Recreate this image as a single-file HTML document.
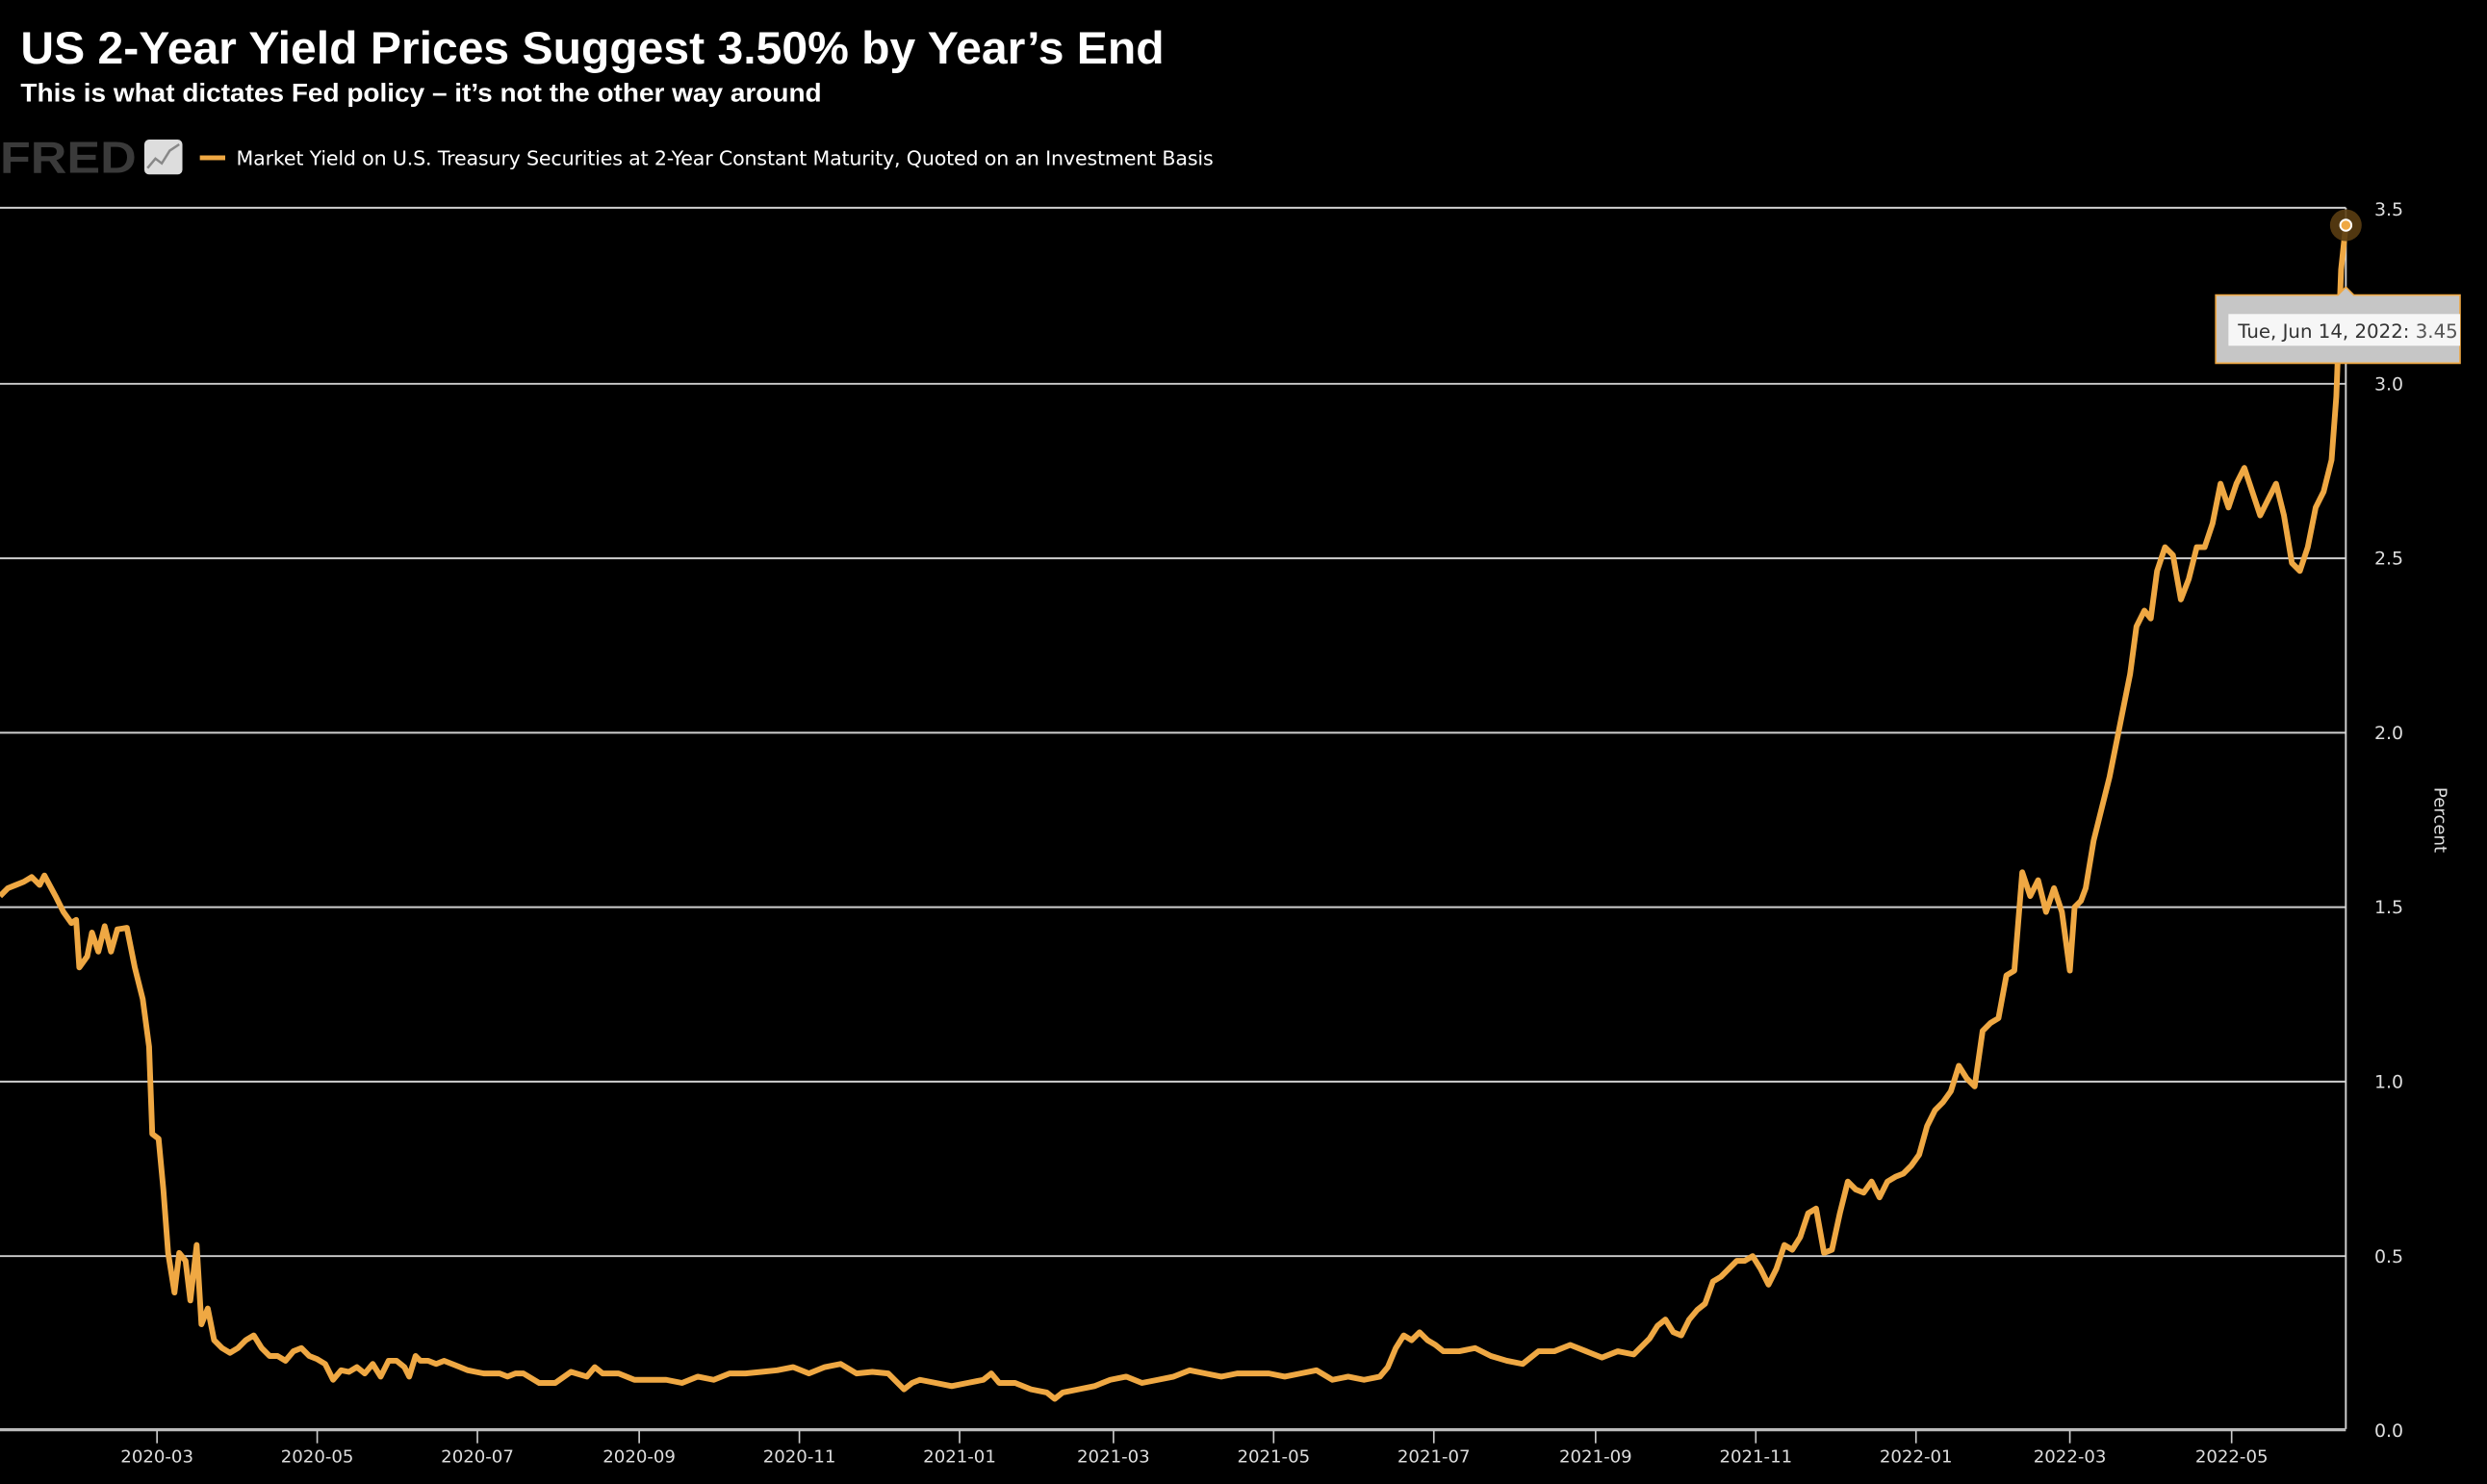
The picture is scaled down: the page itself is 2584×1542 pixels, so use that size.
<!DOCTYPE html>
<html><head><meta charset="utf-8"><style>
html,body{margin:0;padding:0;background:#000;width:2584px;height:1542px;overflow:hidden}
svg{display:block}
</style></head><body>
<svg width="2584" height="1542" viewBox="0 0 1568 935.7" xmlns="http://www.w3.org/2000/svg">
<rect width="1568" height="936" fill="#000"/>
<text x="13" y="40" font-family="Liberation Sans, sans-serif" font-weight="bold" font-size="28.5" fill="#fff" textLength="721" lengthAdjust="spacingAndGlyphs">US 2-Year Yield Prices Suggest 3.50% by Year’s End</text>
<text x="13" y="64" font-family="Liberation Sans, sans-serif" font-weight="bold" font-size="16.5" fill="#fff" textLength="505" lengthAdjust="spacingAndGlyphs">This is what dictates Fed policy – it’s not the other way around</text>
<text x="0" y="109" font-family="Liberation Sans, sans-serif" font-weight="bold" font-size="28" fill="#3a3a3a" textLength="86" lengthAdjust="spacingAndGlyphs">FRED</text>
<rect x="91" y="88" width="24" height="22" rx="3" fill="#ddd"/>
<polyline points="93,106 98,100 102,103 107,95 113,91" fill="none" stroke="#888" stroke-width="1.5"/>
<rect x="126" y="98" width="16" height="3" fill="#efa843"/>
<text x="149" y="104" font-family="DejaVu Sans, sans-serif" font-size="12.5" fill="#fff" textLength="616">Market Yield on U.S. Treasury Securities at 2-Year Constant Maturity, Quoted on an Investment Basis</text>
<g stroke="#cfcfcf" stroke-width="1.2">
<line x1="0" y1="131" x2="1479" y2="131"/><line x1="0" y1="242" x2="1479" y2="242"/>
<line x1="0" y1="352" x2="1479" y2="352"/><line x1="0" y1="462" x2="1479" y2="462"/>
<line x1="0" y1="572" x2="1479" y2="572"/><line x1="0" y1="682" x2="1479" y2="682"/>
<line x1="0" y1="792" x2="1479" y2="792"/>
<line x1="1479" y1="131" x2="1479" y2="901"/>
</g>
<line x1="0" y1="901.5" x2="1479" y2="901.5" stroke="#bbb" stroke-width="2"/>
<g stroke="#ccc" stroke-width="1">
<line x1="99" y1="902" x2="99" y2="910"/><line x1="200" y1="902" x2="200" y2="910"/><line x1="301" y1="902" x2="301" y2="910"/><line x1="403" y1="902" x2="403" y2="910"/><line x1="504" y1="902" x2="504" y2="910"/><line x1="605" y1="902" x2="605" y2="910"/><line x1="702" y1="902" x2="702" y2="910"/><line x1="803" y1="902" x2="803" y2="910"/><line x1="904" y1="902" x2="904" y2="910"/><line x1="1006" y1="902" x2="1006" y2="910"/><line x1="1107" y1="902" x2="1107" y2="910"/><line x1="1208" y1="902" x2="1208" y2="910"/><line x1="1305" y1="902" x2="1305" y2="910"/><line x1="1407" y1="902" x2="1407" y2="910"/>
</g>
<g font-family="DejaVu Sans, sans-serif" font-size="11" fill="#ddd" text-anchor="middle">
<text x="99" y="922">2020-03</text><text x="200" y="922">2020-05</text><text x="301" y="922">2020-07</text><text x="403" y="922">2020-09</text><text x="504" y="922">2020-11</text><text x="605" y="922">2021-01</text><text x="702" y="922">2021-03</text><text x="803" y="922">2021-05</text><text x="904" y="922">2021-07</text><text x="1006" y="922">2021-09</text><text x="1107" y="922">2021-11</text><text x="1208" y="922">2022-01</text><text x="1305" y="922">2022-03</text><text x="1407" y="922">2022-05</text>
</g>
<g font-family="DejaVu Sans, sans-serif" font-size="11.5" fill="#ddd">
<text x="1497" y="136">3.5</text><text x="1497" y="246">3.0</text><text x="1497" y="356">2.5</text><text x="1497" y="466">2.0</text><text x="1497" y="576">1.5</text><text x="1497" y="686">1.0</text><text x="1497" y="796">0.5</text><text x="1497" y="906">0.0</text>
</g>
<text x="0" y="0" transform="translate(1535,517) rotate(90)" font-family="DejaVu Sans, sans-serif" font-size="11" fill="#ddd" text-anchor="middle">Percent</text>
<polyline fill="none" stroke="#efa843" stroke-width="3.6" stroke-linejoin="round" points="0,565 5,560 10,558 15,556 20,553 25,558 28,552 35,565 40,575 45,582 48,580 50,610 55,603 58,588 62,600 66,584 70,600 74,586 80,585 85,610 90,630 94,660 96,715 100,718 103,750 106,790 110,815 113,790 117,795 120,820 124,785 127,835 131,825 135,845 140,850 145,853 150,850 155,845 160,842 165,850 170,855 175,855 180,858 185,852 190,850 195,855 200,857 205,860 210,870 215,864 220,865 225,862 230,866 235,860 240,868 245,858 250,858 255,862 258,868 262,855 265,858 270,858 275,860 280,858 285,860 290,862 295,864 300,865 305,866 310,866 315,866 320,868 325,866 330,866 340,872 350,872 360,865 370,868 375,862 380,866 390,866 400,870 410,870 420,870 430,872 440,868 450,870 460,866 470,866 480,865 490,864 500,862 510,866 520,862 530,860 540,866 550,865 560,866 570,876 575,872 580,870 590,872 600,874 610,872 620,870 625,866 630,872 640,872 650,876 660,878 665,882 670,878 680,876 690,874 700,870 710,868 720,872 730,870 740,868 750,864 760,866 770,868 780,866 790,866 800,866 810,868 820,866 830,864 840,870 850,868 860,870 870,868 875,862 880,850 885,842 890,845 895,840 900,845 905,848 910,852 920,852 930,850 940,855 950,858 960,860 970,852 980,852 990,848 1000,852 1005,854 1010,856 1020,852 1030,854 1040,844 1045,836 1050,832 1055,840 1060,842 1065,832 1070,826 1075,822 1080,808 1085,805 1090,800 1095,795 1100,795 1105,792 1110,800 1115,810 1120,800 1125,785 1130,788 1135,780 1140,765 1145,762 1150,790 1155,788 1160,765 1165,745 1170,750 1175,752 1180,745 1185,755 1190,745 1195,742 1200,740 1205,735 1210,728 1215,710 1220,700 1225,695 1230,688 1235,672 1240,680 1245,685 1250,650 1255,645 1260,642 1265,615 1270,612 1275,550 1280,565 1285,555 1290,575 1295,560 1300,575 1305,612 1308,572 1312,568 1315,560 1320,530 1325,510 1330,490 1335,465 1340,440 1343,425 1347,395 1352,385 1356,390 1360,360 1365,345 1370,350 1375,378 1380,365 1385,345 1390,345 1395,330 1400,305 1405,320 1410,305 1415,295 1420,310 1425,325 1430,315 1435,305 1440,325 1445,355 1450,360 1455,345 1460,320 1465,310 1470,290 1473,250 1476,170 1479,142"/>
<circle cx="1479" cy="142" r="10" fill="#5a3d12" opacity="0.9"/>
<circle cx="1479" cy="142" r="3.5" fill="#efa843" stroke="#fff" stroke-width="1.2"/>
<path d="M1397,186 L1474,186 L1479,181 L1484,186 L1551,186 L1551,229 L1397,229 Z" fill="#c6c6c6" stroke="#efa843" stroke-width="1"/>
<rect x="1405" y="198" width="146" height="20" fill="#f6f6f6"/>
<text x="1411" y="213" font-family="DejaVu Sans, sans-serif" font-size="12" fill="#333">Tue, Jun 14, 2022: <tspan fill="#555">3.45</tspan></text>
</svg>
</body></html>
